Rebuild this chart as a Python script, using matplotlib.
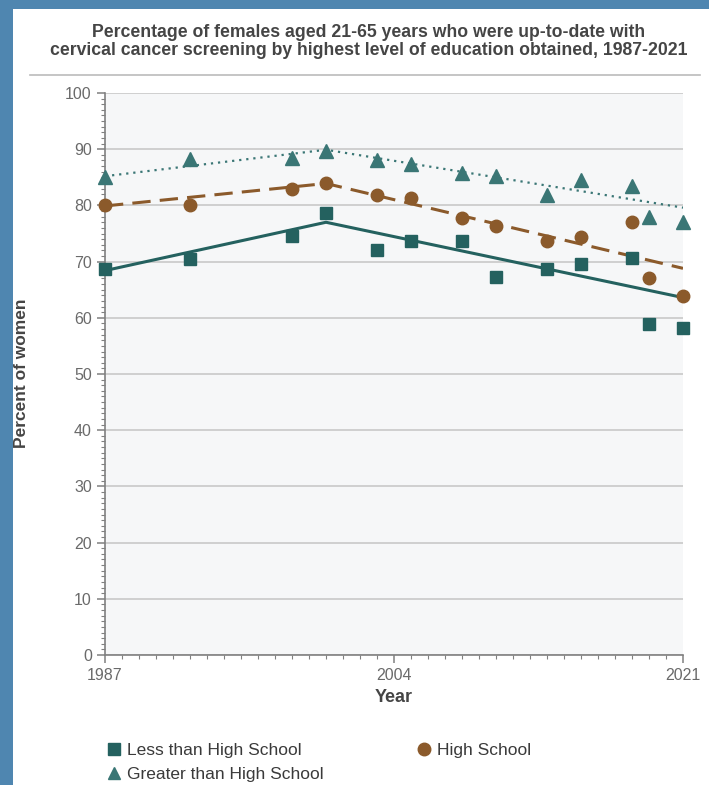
import matplotlib
matplotlib.use("Agg")
import matplotlib.pyplot as plt
from matplotlib.lines import Line2D
from matplotlib.patches import Rectangle
from matplotlib.ticker import MultipleLocator

plt.rcParams["font.family"] = ["Liberation Sans", "DejaVu Sans"]

# survey points
years = [1987, 1992, 1998, 2000, 2003, 2005, 2008, 2010, 2013, 2015, 2018, 2019, 2021]
less_hs = [68.6, 70.5, 74.6, 78.6, 72.0, 73.6, 73.6, 67.3, 68.6, 69.5, 70.7, 58.9, 58.2]
high_school = [80.0, 80.0, 83.0, 83.9, 81.8, 81.4, 77.7, 76.4, 73.7, 74.3, 77.1, 67.1, 63.9]
greater_hs = [85.0, 88.2, 88.4, 89.6, 88.0, 87.3, 85.7, 85.2, 81.8, 84.5, 83.4, 78.0, 77.0]

# joinpoint trend lines
trend_years = [1987, 2000, 2021]
less_trend = [68.4, 77.0, 63.6]
hs_trend = [79.9, 83.9, 68.8]
greater_trend = [85.2, 89.9, 79.6]

TEAL = "#24615f"
TEAL_LIGHT = "#3a7675"
BROWN = "#8b5a2b"
TEXT = "#454545"

fig = plt.figure(figsize=(7.09, 7.85), dpi=100)
fig.patch.set_facecolor("white")

# blue frame strips on left and top
fig.add_artist(Rectangle((0, 0), 13 / 709, 1, transform=fig.transFigure,
                         facecolor="#4f86b0", edgecolor="none"))
fig.add_artist(Rectangle((0, 1 - 9 / 785), 1, 9 / 785, transform=fig.transFigure,
                         facecolor="#4f86b0", edgecolor="none"))

fig.text(369 / 709, 1 - 41.5 / 785,
         "Percentage of females aged 21-65 years who were up-to-date with\n"
         "cervical cancer screening by highest level of education obtained, 1987-2021",
         ha="center", va="center", fontsize=12.7, fontweight="bold", color=TEXT,
         linespacing=1.05)
fig.add_artist(Line2D([30 / 709, 700 / 709], [1 - 75 / 785, 1 - 75 / 785],
                      transform=fig.transFigure, color="#bbbbbb", linewidth=1.2))

ax = fig.add_axes([105 / 709, 1 - 655 / 785, 578 / 709, 562 / 785])
ax.set_facecolor("#f6f7f8")
ax.set_xlim(1987, 2021)
ax.set_ylim(0, 100)

ax.plot(trend_years, less_trend, color=TEAL, linewidth=2.2, zorder=3)
ax.plot(trend_years, hs_trend, color=BROWN, linewidth=2.2, linestyle=(0, (6, 3)), zorder=3)
ax.plot(trend_years, greater_trend, color=TEAL_LIGHT, linewidth=1.6, linestyle=(0, (1, 2.2)), zorder=3)

ax.plot(years, less_hs, "s", color=TEAL, markersize=8, linestyle="none", zorder=4, clip_on=False)
ax.plot(years, high_school, "o", color=BROWN, markersize=9, linestyle="none", zorder=4, clip_on=False)
ax.plot(years, greater_hs, "^", color=TEAL_LIGHT, markersize=9.5, linestyle="none", zorder=4, clip_on=False)

ax.set_yticks(range(0, 101, 10))
ax.yaxis.set_minor_locator(MultipleLocator(1))
ax.set_xticks([1987, 2004, 2021])
ax.xaxis.set_minor_locator(MultipleLocator(1))
ax.grid(axis="y", which="major", color="#c9c9c9", linewidth=1.2)
ax.set_axisbelow(True)

for side in ("top", "right"):
    ax.spines[side].set_visible(False)
for side in ("left", "bottom"):
    ax.spines[side].set_color("#808080")
    ax.spines[side].set_linewidth(1.2)
ax.tick_params(which="major", length=6, width=1.1, color="#808080",
               labelsize=11.5, labelcolor="#6a6a6a")
ax.tick_params(which="minor", length=3, width=0.8, color="#808080")

ax.set_xlabel("Year", fontsize=13, fontweight="bold", color=TEXT, labelpad=4)
fig.text(22 / 709, 1 - 373 / 785, "Percent of women", rotation=90, ha="center", va="center",
         fontsize=12.5, fontweight="bold", color=TEXT)

handles = [
    Line2D([], [], marker="s", color=TEAL, linestyle="none", markersize=8),
    Line2D([], [], marker="^", color=TEAL_LIGHT, linestyle="none", markersize=9),
    Line2D([], [], marker="o", color=BROWN, linestyle="none", markersize=9),
]
labels = ["Less than High School", "Greater than High School", "High School"]
fig.legend(handles, labels, loc="upper left", bbox_to_anchor=(88 / 709, 1 - 727 / 785),
           ncol=2, frameon=False, fontsize=12.5, handletextpad=0.15, handlelength=1.2,
           columnspacing=5.2, labelspacing=0.5, labelcolor="#3a3a3a")

fig.savefig("out.png", dpi=100)
